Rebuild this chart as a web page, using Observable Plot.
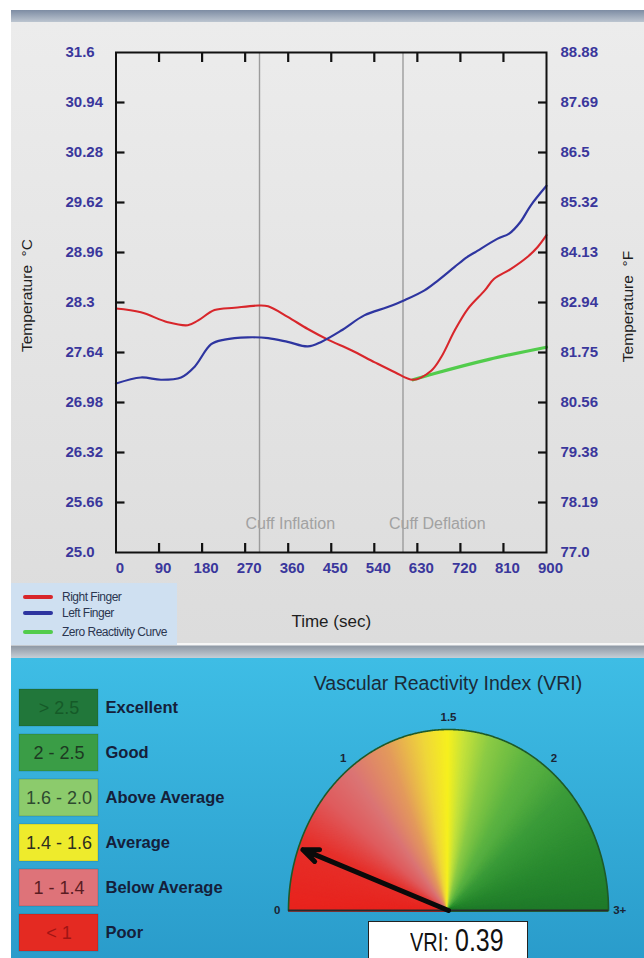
<!DOCTYPE html>
<html>
<head>
<meta charset="utf-8">
<script src="https://cdn.jsdelivr.net/npm/d3@7"></script>
<script src="https://cdn.jsdelivr.net/npm/@observablehq/plot@0.6"></script>
<style>
  body { margin: 0; width: 644px; height: 958px; position: relative; background: #fff; overflow: hidden;
         font-family: "Liberation Sans", Arial, sans-serif; }
  .abs { position: absolute; }
  #topbar { left: 11px; top: 10px; width: 633px; height: 12px; background: linear-gradient(#7d8ca3, #bcc5d0); }
  #toppanel { left: 11px; top: 22px; width: 633px; height: 621px; background: linear-gradient(#ececec, #dcdcdc); }
  #sep { left: 11px; top: 643px; width: 633px; height: 15px;
         background: linear-gradient(#f6f6f6 0px, #f6f6f6 2px, #8f99a5 3px, #c6ced6 15px); }
  #botpanel { left: 11px; top: 658px; width: 633px; height: 300px; background: linear-gradient(#3ebde5, #2a9ccb); }
  #chart, #vriLegend, #gauge { left: 0; }
  #chart { top: 0; }
  #vriLegend, #gauge { top: 658px; }
  #legend { left: 11px; top: 583px; width: 166px; height: 62px; background: #cfe0f1; }
  #legend .row { position: absolute; left: 12px; height: 14px; display: flex; align-items: center; white-space: nowrap;
                 font-size: 12px; letter-spacing: -0.5px; color: #2b3650; }
  #legend .sw { display: inline-block; width: 30px; height: 4px; border-radius: 2px; margin-right: 9px; }
  #title { left: 248px; width: 400px; top: 672px; text-align: center; font-size: 19.5px; color: #1b2b38; }
  #vribox { left: 368px; top: 921px; width: 158px; height: 45px; background: #fff; border: 1.5px solid #222; }
  #vribox span { position: absolute; white-space: nowrap; color: #111; line-height: 1; transform-origin: 0 0; }
  #vribox .lbl { left: 41px; top: 8px; font-size: 25px; transform: scaleX(0.8); }
  #vribox .val { left: 86px; top: 2px; font-size: 32px; transform: scaleX(0.78); }
</style>
</head>
<body>
<div id="topbar" class="abs"></div>
<div id="toppanel" class="abs"></div>
<div id="sep" class="abs"></div>
<div id="botpanel" class="abs"></div>
<div id="chart" class="abs"></div>
<div id="vriLegend" class="abs"></div>
<div id="gauge" class="abs"></div>
<div id="legend" class="abs"></div>
<div id="title" class="abs">Vascular Reactivity Index (VRI)</div>
<div id="vribox" class="abs"><span class="lbl">VRI:</span><span class="val"></span></div>
<script>
// ---------------- data ----------------
const timeRed = [0, 52, 108, 150, 171, 206, 248, 297, 318, 359, 401, 443, 492, 541, 583, 621, 659, 680, 708, 736, 771, 790, 825, 860, 881, 900];
const rightFinger = [28.22, 28.17, 28.04, 28.00, 28.06, 28.20, 28.23, 28.26, 28.25, 28.11, 27.95, 27.81, 27.67, 27.51, 27.38, 27.28, 27.40, 27.58, 27.93, 28.22, 28.46, 28.61, 28.74, 28.90, 29.03, 29.19];

const timeBlue = [0, 52, 94, 136, 164, 199, 227, 275, 318, 359, 401, 429, 471, 519, 568, 603, 645, 673, 708, 734, 750, 797, 822, 845, 867, 900];
const leftFinger = [27.23, 27.31, 27.28, 27.31, 27.45, 27.75, 27.81, 27.84, 27.83, 27.78, 27.72, 27.78, 27.93, 28.13, 28.24, 28.33, 28.46, 28.59, 28.77, 28.90, 28.96, 29.14, 29.21, 29.36, 29.58, 29.84];

const timeGreen = [621, 664, 780, 900];
const zeroReactivity = [27.28, 27.36, 27.55, 27.71];

const xTicks = [0, 90, 180, 270, 360, 450, 540, 630, 720, 810, 900];
const cTickLabels = ["25.0", "25.66", "26.32", "26.98", "27.64", "28.3", "28.96", "29.62", "30.28", "30.94", "31.6"];
const fTickLabels = ["77.0", "78.19", "79.38", "80.56", "81.75", "82.94", "84.13", "85.32", "86.5", "87.69", "88.88"];

const eventTimes = [300, 600];
const eventLabels = ["Cuff Inflation", "Cuff Deflation"];

const seriesNames = ["Right Finger", "Left Finger", "Zero Reactivity Curve"];
const seriesColors = ["#d8262b", "#2e35a0", "#52cc4c"];

const vriRanges = ["> 2.5", "2 - 2.5", "1.6 - 2.0", "1.4 - 1.6", "1 - 1.4", "< 1"];
const vriRatings = ["Excellent", "Good", "Above Average", "Average", "Below Average", "Poor"];
const vriColors = ["#21773a", "#3a9d46", "#8ccb6c", "#eeeb2c", "#de7379", "#e42a22"];
const vriTextColors = ["#155a28", "#1d3a22", "#2e4a30", "#2f2f20", "#5a1c22", "#a01414"];

const gaugeTickValues = [0, 1, 1.5, 2, 3];
const gaugeTickLabels = ["0", "1", "1.5", "2", "3+"];
const gaugeTickAngles = [180, 128, 90, 52, 0];
const gaugeStopValues = [0, 0.45, 0.75, 1.0, 1.2, 1.38, 1.5, 1.58, 1.7, 1.9, 2.2, 2.6, 3];
const gaugeStopColors = ["#e8231d", "#e6302b", "#df5b5d", "#db7474", "#e39a5c", "#efd63a", "#f6f01e", "#c6e23a", "#8ccb44", "#5db442", "#3c9c3a", "#2a8a30", "#1f7a2a"];
const vriValue = 0.39;

// ---------------- top chart ----------------
const pts = (ts, vs) => ts.map((t, i) => ({t, v: vs[i]}));
const events = eventTimes.map((t, i) => ({t, label: eventLabels[i]}));
const cTicks = cTickLabels.map(Number);
const innerC = cTicks.slice(1, -1);
const innerX = xTicks.slice(1, -1);
const fmtC = d => cTickLabels[cTicks.indexOf(d)];
const fmtF = d => fTickLabels[cTicks.indexOf(d)];
const tickFont = {fill: "#3a379c", fontWeight: "bold", fontSize: 15, fontFamily: "Liberation Sans, Arial, sans-serif",
  letterSpacing: -0.8, label: null};
const tickLine = {fill: "none", stroke: "#111", strokeWidth: 2.2, tickSize: 9, label: null};

const chart = Plot.plot({
  width: 644, height: 643,
  marginLeft: 115.5, marginRight: 98, marginTop: 52, marginBottom: 91,
  style: {background: "transparent", fontFamily: "Liberation Sans, Arial, sans-serif"},
  x: {domain: [0, 900]},
  y: {domain: [25, 31.6]},
  marks: [
    Plot.ruleX(events, {x: "t", stroke: "#9c9c9c", strokeWidth: 1.4}),
    Plot.text(events, {x: "t", frameAnchor: "bottom", dy: -24, dx: -14, textAnchor: "start", text: "label",
      fill: "#a2a2a2", fontSize: 16}),
    Plot.line(pts(timeGreen, zeroReactivity), {x: "t", y: "v", stroke: seriesColors[2], strokeWidth: 3.2, curve: "catmull-rom"}),
    Plot.line(pts(timeRed, rightFinger), {x: "t", y: "v", stroke: seriesColors[0], strokeWidth: 2.1, curve: "catmull-rom"}),
    Plot.line(pts(timeBlue, leftFinger), {x: "t", y: "v", stroke: seriesColors[1], strokeWidth: 2.2, curve: "catmull-rom"}),
    Plot.frame({stroke: "#111", strokeWidth: 2}),
    Plot.axisX({anchor: "top", ticks: innerX, dy: 9, ...tickLine}),
    Plot.axisX({anchor: "bottom", ticks: innerX, dy: -9, ...tickLine}),
    Plot.axisY({anchor: "left", ticks: innerC, dx: 9, ...tickLine}),
    Plot.axisY({anchor: "right", ticks: innerC, dx: -9, ...tickLine}),
    Plot.axisX({anchor: "bottom", ticks: xTicks, tickSize: 0, tickPadding: 10, dx: 4, ...tickFont}),
    Plot.axisY({anchor: "left", ticks: cTicks, tickSize: 0, tickPadding: 50.5, textAnchor: "start", tickFormat: fmtC, ...tickFont}),
    Plot.axisY({anchor: "right", ticks: cTicks, tickSize: 0, tickPadding: 14, tickFormat: fmtF, ...tickFont}),
    Plot.text(["Temperature  °C"], {frameAnchor: "left", textAnchor: "middle", dx: -89, dy: -7, rotate: -90, text: d => d, fontSize: 15.5, fill: "#1e1e1e"}),
    Plot.text(["Temperature  °F"], {frameAnchor: "right", textAnchor: "middle", dx: 82, dy: 4, rotate: -90, text: d => d, fontSize: 15.5, fill: "#1e1e1e"}),
    Plot.text(["Time (sec)"], {frameAnchor: "bottom", dy: 74, text: d => d, fontSize: 17, fill: "#1e1e1e"})
  ]
});
document.getElementById("chart").append(chart);

// legend (top panel)
const lg = document.getElementById("legend");
const rowTops = [7, 23, 42];
seriesNames.forEach((n, i) => {
  const r = document.createElement("div");
  r.className = "row";
  r.style.top = rowTops[i] + "px";
  r.innerHTML = `<span class="sw" style="background:${seriesColors[i]}"></span>${n}`;
  lg.append(r);
});

// ---------------- VRI legend ----------------
const rows = vriRanges.map((r, i) => ({range: r, rating: vriRatings[i], color: vriColors[i], textColor: vriTextColors[i]}));
const vriLegend = Plot.plot({
  width: 300, height: 300,
  style: {background: "transparent", fontFamily: "Liberation Sans, Arial, sans-serif"},
  x: {type: "band", domain: ["swatch"], range: [19, 98], padding: 0, axis: null},
  y: {type: "band", domain: vriRanges, range: [25.2, 298.8], paddingInner: 0.1667, paddingOuter: 0.0833, axis: null},
  color: {type: "identity"},
  marks: [
    Plot.cell(rows, {x: () => "swatch", y: "range", fill: "color", stroke: "rgba(0,0,0,0.15)", strokeWidth: 1}),
    Plot.text(rows, {x: () => "swatch", y: "range", text: "range", fill: "textColor", fontSize: 18}),
    Plot.text(rows, {x: () => "swatch", y: "range", text: "rating", textAnchor: "start", dx: 46.5,
      fontWeight: "bold", fontSize: 16.5, fill: "#15203a"})
  ]
});
document.getElementById("vriLegend").append(vriLegend);

// ---------------- gauge ----------------
const angle = d3.scaleLinear().domain(gaugeTickValues).range(gaugeTickAngles);
const gaugeColor = d3.scaleLinear().domain(gaugeStopValues).range(gaugeStopColors).interpolate(d3.interpolateRgb);
const rad = d => angle(d) * Math.PI / 180;
const rays = d3.range(0, 3.0001, 0.004).map(v => ({v, a: rad(v)}));
const gaugeTicks = gaugeTickValues.map((v, i) => ({v, label: gaugeTickLabels[i]}));

const gauge = Plot.plot({
  width: 644, height: 300,
  style: {background: "transparent", fontFamily: "Liberation Sans, Arial, sans-serif"},
  x: {domain: [-1, 1], range: [288, 608], axis: null},
  y: {domain: [0, 1], range: [252, 71], axis: null},
  color: {type: "identity"},
  marks: [
    Plot.link(rays, {x1: 0, y1: 0, x2: d => Math.cos(d.a), y2: d => Math.sin(d.a), stroke: d => gaugeColor(d.v), strokeWidth: 2.4}),
    Plot.line(rays, {x: d => Math.cos(d.a), y: d => Math.sin(d.a), stroke: "#1d5a2a", strokeWidth: 1.6}),
    Plot.ruleY([0], {x1: -1, x2: 1, stroke: "#2a2a2a", strokeWidth: 2}),
    Plot.text(gaugeTicks, {x: d => 1.07 * Math.cos(rad(d.v)), y: d => 1.07 * Math.sin(rad(d.v)), text: "label",
      fontWeight: "bold", fontSize: 11.5, fill: "#1a2535"}),
    Plot.arrow([vriValue], {x1: 0, y1: 0, x2: d => 0.97 * Math.cos(rad(d)), y2: d => 0.97 * Math.sin(rad(d)),
      stroke: "#0a0a0a", strokeWidth: 5, headLength: 5, headAngle: 45, bend: 0})
  ]
});
document.getElementById("gauge").append(gauge);
document.querySelector("#vribox .val").textContent = vriValue.toFixed(2);
</script>
</body>
</html>
